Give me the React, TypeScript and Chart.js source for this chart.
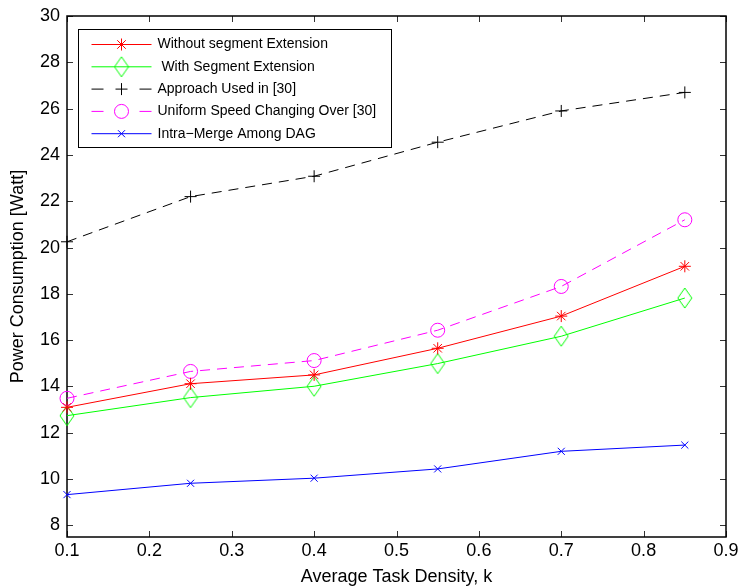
import React, { useEffect, useRef } from "react";
import { Chart, registerables } from "chart.js";
import { drawPoint } from "chart.js/helpers";

Chart.register(...registerables);

const densities = [0.1, 0.25, 0.4, 0.55, 0.7, 0.85];
const withoutSegmentExtension = [13.1, 14.12, 14.5, 15.65, 17.04, 19.19];
const withSegmentExtension = [12.74, 13.52, 14.01, 14.99, 16.17, 17.82];
const approachUsedIn30 = [20.25, 22.2, 23.08, 24.55, 25.9, 26.7];
const uniformSpeedChanging = [13.49, 14.65, 15.12, 16.43, 18.32, 21.2];
const intraMergeAmongDAG = [9.33, 9.82, 10.04, 10.44, 11.2, 11.47];

const seriesLabels = [
  "Without segment Extension",
  " With Segment Extension",
  "Approach Used in [30]",
  "Uniform Speed Changing Over [30]",
  "Intra\u2212Merge Among DAG",
];

const xTicks = [0.1, 0.2, 0.3, 0.4, 0.5, 0.6, 0.7, 0.8, 0.9];
const yTicks = [8, 10, 12, 14, 16, 18, 20, 22, 24, 26, 28, 30];

const FONT = "'Liberation Sans', Arial, Helvetica, sans-serif";

function makeDiamond(color: string): HTMLCanvasElement {
  const c = document.createElement("canvas");
  c.width = 16;
  c.height = 22;
  const ctx = c.getContext("2d")!;
  ctx.strokeStyle = color;
  ctx.lineWidth = 1;
  ctx.beginPath();
  ctx.moveTo(8, 1);
  ctx.lineTo(15, 11);
  ctx.lineTo(8, 21);
  ctx.lineTo(1, 11);
  ctx.closePath();
  ctx.stroke();
  return c;
}

const toPoints = (ys: number[]) => ys.map((y, i) => ({ x: densities[i], y }));

const framePlugin = {
  id: "frame",
  beforeDatasetsDraw(chart: any) {
    const { ctx, chartArea } = chart;
    const xs = chart.scales.x;
    const ys = chart.scales.y;
    const { left, right, top, bottom } = chartArea;
    ctx.save();
    ctx.strokeStyle = "#333";
    ctx.lineWidth = 1;
    const tl = 6;
    ctx.beginPath();
    for (const v of xTicks) {
      const px = Math.round(xs.getPixelForValue(v)) + 0.5;
      ctx.moveTo(px, bottom);
      ctx.lineTo(px, bottom - tl);
      ctx.moveTo(px, top);
      ctx.lineTo(px, top + tl);
    }
    for (const v of yTicks) {
      const py = Math.round(ys.getPixelForValue(v)) + 0.5;
      ctx.moveTo(left, py);
      ctx.lineTo(left + tl, py);
      ctx.moveTo(right, py);
      ctx.lineTo(right - tl, py);
    }
    ctx.stroke();
    ctx.strokeStyle = "#000";
    ctx.lineWidth = 1.5;
    ctx.strokeRect(left, top, right - left, bottom - top);
    ctx.restore();
  },
};

const legendPlugin = {
  id: "insideLegend",
  afterDraw(chart: any) {
    const { ctx, chartArea } = chart;
    const bx = chartArea.left + 11.5;
    const by = chartArea.top + 13.5;
    const bw = 313;
    const bh = 118;
    ctx.save();
    ctx.fillStyle = "#fff";
    ctx.fillRect(bx, by, bw, bh);
    ctx.strokeStyle = "#000";
    ctx.lineWidth = 1;
    ctx.strokeRect(bx, by, bw, bh);
    chart.data.datasets.forEach((ds: any, i: number) => {
      const y = by + 15 + i * 22.3;
      const x0 = bx + 13;
      const x1 = x0 + 60;
      ctx.strokeStyle = ds.borderColor;
      ctx.lineWidth = 1;
      ctx.setLineDash(ds.borderDash && ds.borderDash.length ? [12, 36] : []);
      ctx.beginPath();
      ctx.moveTo(x0, y);
      ctx.lineTo(x1, y);
      ctx.stroke();
      ctx.setLineDash([]);
      ctx.strokeStyle = ds.pointBorderColor;
      ctx.fillStyle = "rgba(0,0,0,0)";
      drawPoint(ctx, { pointStyle: ds.pointStyle, radius: ds.pointRadius, rotation: 0, borderWidth: 1 }, x0 + 30, y);
      ctx.fillStyle = "#000";
      ctx.font = `14px ${FONT}`;
      ctx.textBaseline = "middle";
      ctx.textAlign = "left";
      ctx.fillText(ds.label, x1 + 6, y);
    });
    ctx.restore();
  },
};

export default function App() {
  const ref = useRef<HTMLCanvasElement | null>(null);
  useEffect(() => {
    document.body.style.margin = "0";
    if (!ref.current) return;
    Chart.defaults.font.family = FONT;
    const common = { borderWidth: 1, pointBorderWidth: 1, pointBackgroundColor: "rgba(0,0,0,0)", clip: false as any, tension: 0 };
    const chart = new Chart(ref.current, {
      type: "line",
      data: {
        datasets: [
          { ...common, label: seriesLabels[0], data: toPoints(withoutSegmentExtension), borderColor: "#ff0000", pointBorderColor: "#ff0000", pointStyle: "star", pointRadius: 6 },
          { ...common, label: seriesLabels[1], data: toPoints(withSegmentExtension), borderColor: "#00ff00", pointBorderColor: "#00ff00", pointStyle: makeDiamond("#00ff00") as any, pointRadius: 9 },
          { ...common, label: seriesLabels[2], data: toPoints(approachUsedIn30), borderColor: "#000000", pointBorderColor: "#000000", pointStyle: "cross", pointRadius: 6, borderDash: [10, 7] },
          { ...common, label: seriesLabels[3], data: toPoints(uniformSpeedChanging), borderColor: "#ff00ff", pointBorderColor: "#ff00ff", pointStyle: "circle", pointRadius: 7, borderDash: [10, 7] },
          { ...common, label: seriesLabels[4], data: toPoints(intraMergeAmongDAG), borderColor: "#0000ff", pointBorderColor: "#0000ff", pointStyle: "crossRot", pointRadius: 5 },
        ] as any,
      },
      options: {
        animation: false,
        responsive: false,
        events: [],
        layout: { padding: { top: 16, right: 15, left: 0, bottom: 0 } },
        plugins: { legend: { display: false }, tooltip: { enabled: false }, title: { display: false } },
        scales: {
          x: {
            type: "linear",
            min: 0.1,
            max: 0.9,
            afterBuildTicks: (s: any) => { s.ticks = xTicks.map((v) => ({ value: v })); },
            afterFit: (s: any) => { s.height = 51; s.paddingLeft = 0; s.paddingRight = 0; },
            grid: { display: false, drawTicks: false },
            border: { display: false },
            ticks: { color: "#000", font: { size: 18 }, padding: 3, maxRotation: 0, autoSkip: false, callback: (v: any) => Number(v).toFixed(1) },
            title: { display: true, text: "Average Task Density, k", color: "#000", font: { size: 18 }, padding: { top: 0, bottom: 0 } },
          },
          y: {
            type: "linear",
            min: 7.5,
            max: 30,
            afterBuildTicks: (s: any) => { s.ticks = yTicks.map((v) => ({ value: v })); },
            afterFit: (s: any) => { s.width = 67; s.paddingTop = 0; s.paddingBottom = 0; },
            grid: { display: false, drawTicks: false },
            border: { display: false },
            ticks: { color: "#000", font: { size: 18 }, padding: 7, autoSkip: false, callback: (v: any) => String(v) },
            title: { display: true, text: "Power Consumption [Watt]", color: "#000", font: { size: 18 }, padding: { top: 7, bottom: 0 } },
          },
        },
      },
      plugins: [framePlugin, legendPlugin],
    });
    return () => chart.destroy();
  }, []);
  return <canvas ref={ref} width={741} height={588} style={{ display: "block" }} />;
}
